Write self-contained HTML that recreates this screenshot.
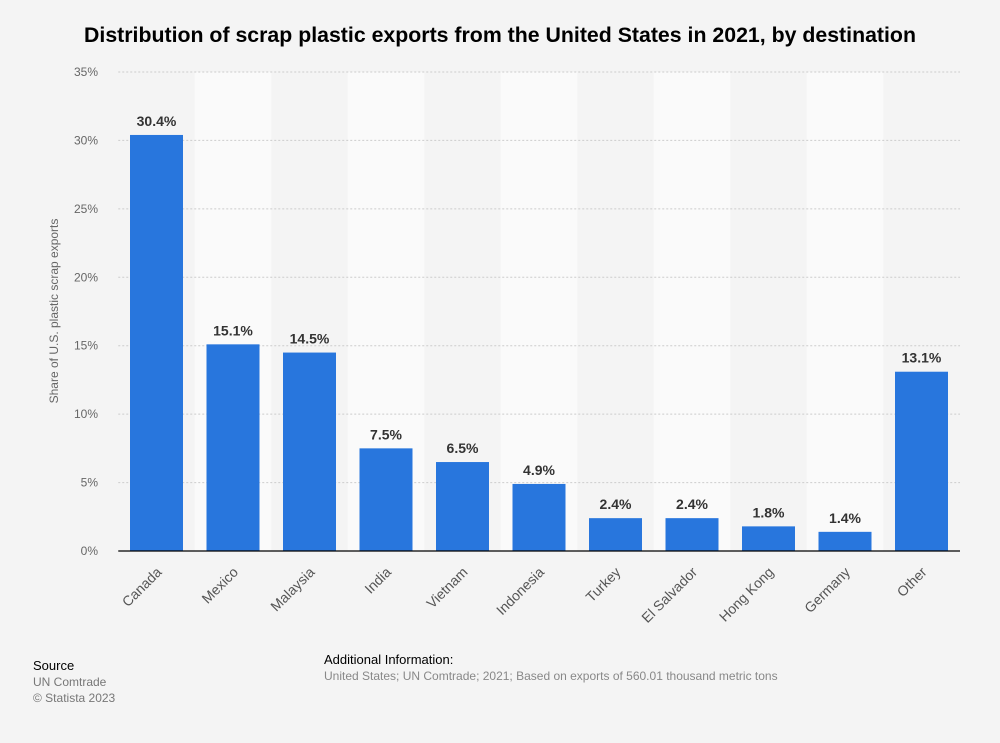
<!DOCTYPE html>
<html><head><meta charset="utf-8"><style>
body{margin:0;background:#f4f4f4;font-family:"Liberation Sans",Arial,sans-serif;}
svg{display:block}
</style></head><body>
<svg width="1000" height="743" viewBox="0 0 1000 743" id="c">
<text x="500" y="42" text-anchor="middle" font-size="21.3" font-weight="bold" fill="#000">Distribution of scrap plastic exports from the United States in 2021, by destination</text>
<text transform="translate(58,311) rotate(-90)" text-anchor="middle" font-size="12" fill="#666">Share of U.S. plastic scrap exports</text>
<g id="bands"></g><g id="grid"></g><g id="bars"></g>
<text x="33" y="670" font-size="13" fill="#000">Source</text>
<text x="33" y="686" font-size="12" fill="#777">UN Comtrade</text>
<text x="33" y="702" font-size="12" fill="#777">© Statista 2023</text>
<text x="324" y="664" font-size="13" fill="#000">Additional Information:</text>
<text x="324" y="680" font-size="12" fill="#888">United States; UN Comtrade; 2021; Based on exports of 560.01 thousand metric tons</text>
</svg>
<script>
const categories=["Canada","Mexico","Malaysia","India","Vietnam","Indonesia","Turkey","El Salvador","Hong Kong","Germany","Other"];
const values=[30.4,15.1,14.5,7.5,6.5,4.9,2.4,2.4,1.8,1.4,13.1];
const ticks=[0,5,10,15,20,25,30,35];
const NS="http://www.w3.org/2000/svg";
const x0=118.25,step=76.5,bw=53,yb=551,yt=72,ymax=35;
const y=v=>yb-(v/ymax)*(yb-yt);
const xc=i=>x0+step*(i+0.5);
function mk(t,a,p){const e=document.createElementNS(NS,t);for(const k in a)e.setAttribute(k,a[k]);p.appendChild(e);return e;}
const bands=document.getElementById('bands'),grid=document.getElementById('grid'),bars=document.getElementById('bars');
categories.forEach((c,i)=>{if(i%2==1){const r=mk('rect',{x:x0+step*i,y:yt,width:step,height:yb-yt,fill:'#fafafa'},bands);

}});
ticks.forEach(t=>{if(t>0){const l=mk('line',{x1:x0,x2:960,y1:y(t),y2:y(t),stroke:'#ccc','stroke-dasharray':'2,2'},grid);

}
const tx=mk('text',{x:98,y:y(t)+4,'text-anchor':'end','font-size':12,fill:'#666'},grid);tx.textContent=t+'%';

});
categories.forEach((c,i)=>{const r=mk('rect',{x:xc(i)-bw/2,y:y(values[i]),width:bw,height:yb-y(values[i]),fill:'#2876dd'},bars);


const v=mk('text',{x:xc(i),y:y(values[i])-9,'text-anchor':'middle','font-size':14,'font-weight':'bold',fill:'#333'},bars);v.textContent=values[i].toFixed(1)+'%';


const l=mk('text',{transform:`translate(${xc(i)+6},${yb+22}) rotate(-45)`,'text-anchor':'end','font-size':14,fill:'#555'},bars);l.textContent=c;

});
const ax=mk('line',{x1:x0,x2:960,y1:yb,y2:yb,stroke:'#000','stroke-width':1.3},bars);


</script>
</body></html>
